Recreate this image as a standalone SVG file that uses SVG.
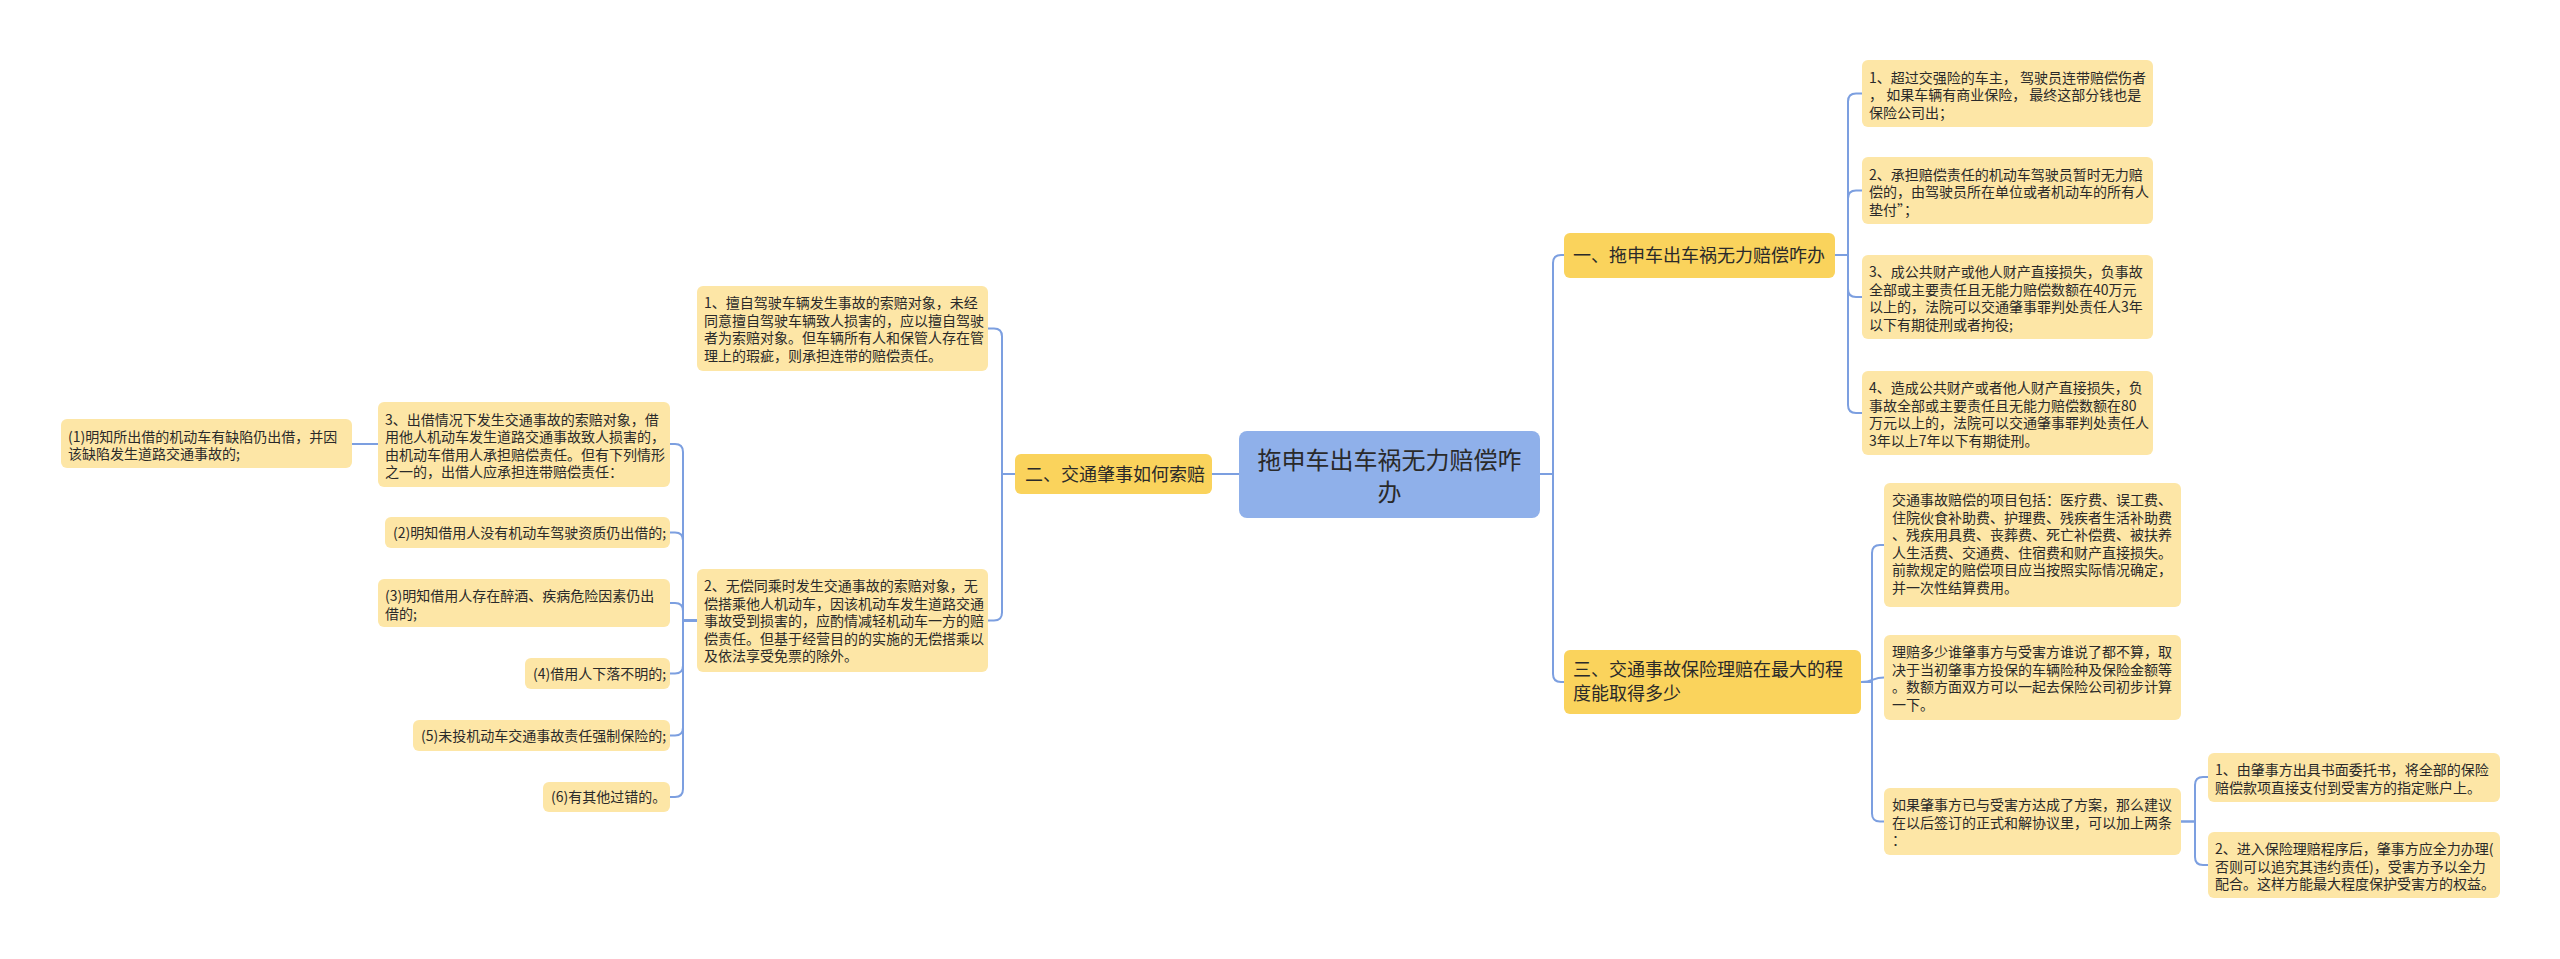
<svg xmlns="http://www.w3.org/2000/svg" width="2560" height="959" viewBox="0 0 2560 959">
<style>
.bg{fill:#ffffff}
.root{fill:#8fb0ea}
.br{fill:#fad35c}
.lf{fill:#fde6a6}
.ln{fill:none;stroke:#7c9fe0;stroke-width:2}
text{font-family:"Noto Sans CJK SC","Microsoft YaHei",sans-serif;fill:#2a2a2a}
.t24{font-size:24px}
.t18{font-size:18px}
.t14{font-size:14px}
</style>
<rect class="bg" x="0" y="0" width="2560" height="959"/>
<g id="connectors">
<path class="ln" d="M1540,474 H1553 V263 Q1553,255 1561,255 H1564"/>
<path class="ln" d="M1540,474 H1553 V674 Q1553,682 1561,682 H1564"/>
<path class="ln" d="M1239,474 H1212"/>
<path class="ln" d="M1835,255 H1848 V101.5 Q1848,93.5 1856,93.5 H1862"/>
<path class="ln" d="M1835,255 H1848 V198.5 Q1848,190.5 1856,190.5 H1862"/>
<path class="ln" d="M1835,255 H1848 V289 Q1848,297 1856,297 H1862"/>
<path class="ln" d="M1835,255 H1848 V405 Q1848,413 1856,413 H1862"/>
<path class="ln" d="M1861,682 H1872 V553 Q1872,545 1880,545 H1884"/>
<path class="ln" d="M1861,682 C1874,682 1872,677.5 1884,677.5"/>
<path class="ln" d="M1861,682 H1872 V813.5 Q1872,821.5 1880,821.5 H1884"/>
<path class="ln" d="M2181,821.5 H2195 V785 Q2195,777 2203,777 H2208"/>
<path class="ln" d="M2181,821.5 H2195 V857 Q2195,865 2203,865 H2208"/>
<path class="ln" d="M1015,474 H1002 V336.5 Q1002,328.5 994,328.5 H988"/>
<path class="ln" d="M1015,474 H1002 V612.5 Q1002,620.5 994,620.5 H988"/>
<path class="ln" d="M697,620.5 H683 V452 Q683,444 675,444 H670"/>
<path class="ln" d="M697,620.5 H683 V540.5 Q683,532.5 675,532.5 H670"/>
<path class="ln" d="M697,620.5 H683 V611 Q683,603 675,603 H670"/>
<path class="ln" d="M697,620.5 H683 V665.5 Q683,673.5 675,673.5 H670"/>
<path class="ln" d="M697,620.5 H683 V727.5 Q683,735.5 675,735.5 H670"/>
<path class="ln" d="M697,620.5 H683 V789 Q683,797 675,797 H670"/>
<path class="ln" d="M378,444 H352"/>
</g>
<g id="root">
<rect class="root" x="1239" y="431" width="301" height="87" rx="8"/>
<text class="t24" x="1389.5" y="469" text-anchor="middle">拖申车出车祸无力赔偿咋</text>
<text class="t24" x="1389.5" y="501" text-anchor="middle">办</text>
</g>
<g id="branch1">
<rect class="br" x="1564" y="233" width="271" height="45" rx="6"/>
<text class="t18" x="1573" y="261.5">一、拖申车出车祸无力赔偿咋办</text>
</g>
<g id="branch2">
<rect class="br" x="1015" y="454" width="197" height="40" rx="6"/>
<text class="t18" x="1025" y="480.5">二、交通肇事如何索赔</text>
</g>
<g id="branch3">
<rect class="br" x="1564" y="650" width="297" height="64" rx="6"/>
<text class="t18" x="1573" y="676">三、交通事故保险理赔在最大的程</text>
<text class="t18" x="1573" y="700">度能取得多少</text>
</g>
<g id="leaf1">
<rect class="lf" x="1862" y="60" width="291" height="67" rx="6"/>
<text class="t14" x="1869" y="82.5">1、超过交强险的车主， 驾驶员连带赔偿伤者</text>
<text class="t14" x="1869" y="100">， 如果车辆有商业保险， 最终这部分钱也是</text>
<text class="t14" x="1869" y="117.5">保险公司出；</text>
</g>
<g id="leaf2">
<rect class="lf" x="1862" y="157" width="291" height="67" rx="6"/>
<text class="t14" x="1869" y="179.5">2、承担赔偿责任的机动车驾驶员暂时无力赔</text>
<text class="t14" x="1869" y="197">偿的，由驾驶员所在单位或者机动车的所有人</text>
<text class="t14" x="1869" y="214.5">垫付”；</text>
</g>
<g id="leaf3">
<rect class="lf" x="1862" y="255" width="291" height="84" rx="6"/>
<text class="t14" x="1869" y="277">3、成公共财产或他人财产直接损失，负事故</text>
<text class="t14" x="1869" y="294.5">全部或主要责任且无能力赔偿数额在40万元</text>
<text class="t14" x="1869" y="312">以上的，法院可以交通肇事罪判处责任人3年</text>
<text class="t14" x="1869" y="329.5">以下有期徒刑或者拘役;</text>
</g>
<g id="leaf4">
<rect class="lf" x="1862" y="371" width="291" height="84" rx="6"/>
<text class="t14" x="1869" y="393">4、造成公共财产或者他人财产直接损失，负</text>
<text class="t14" x="1869" y="410.5">事故全部或主要责任且无能力赔偿数额在80</text>
<text class="t14" x="1869" y="428">万元以上的，法院可以交通肇事罪判处责任人</text>
<text class="t14" x="1869" y="445.5">3年以上7年以下有期徒刑。</text>
</g>
<g id="leafC1">
<rect class="lf" x="1884" y="483" width="297" height="124" rx="6"/>
<text class="t14" x="1892" y="505">交通事故赔偿的项目包括：医疗费、误工费、</text>
<text class="t14" x="1892" y="522.5">住院伙食补助费、护理费、残疾者生活补助费</text>
<text class="t14" x="1892" y="540">、残疾用具费、丧葬费、死亡补偿费、被扶养</text>
<text class="t14" x="1892" y="557.5">人生活费、交通费、住宿费和财产直接损失。</text>
<text class="t14" x="1892" y="575">前款规定的赔偿项目应当按照实际情况确定，</text>
<text class="t14" x="1892" y="592.5">并一次性结算费用。</text>
</g>
<g id="leafC2">
<rect class="lf" x="1884" y="635" width="297" height="85" rx="6"/>
<text class="t14" x="1892" y="657">理赔多少谁肇事方与受害方谁说了都不算，取</text>
<text class="t14" x="1892" y="674.5">决于当初肇事方投保的车辆险种及保险金额等</text>
<text class="t14" x="1892" y="692">。数额方面双方可以一起去保险公司初步计算</text>
<text class="t14" x="1892" y="709.5">一下。</text>
</g>
<g id="leafC3">
<rect class="lf" x="1884" y="788" width="297" height="67" rx="6"/>
<text class="t14" x="1892" y="810">如果肇事方已与受害方达成了方案，那么建议</text>
<text class="t14" x="1892" y="827.5">在以后签订的正式和解协议里，可以加上两条</text>
<text class="t14" x="1892" y="845">：</text>
</g>
<g id="leafD1">
<rect class="lf" x="2208" y="753" width="292" height="49" rx="6"/>
<text class="t14" x="2215" y="775">1、由肇事方出具书面委托书，将全部的保险</text>
<text class="t14" x="2215" y="792.5">赔偿款项直接支付到受害方的指定账户上。</text>
</g>
<g id="leafD2">
<rect class="lf" x="2208" y="832" width="292" height="66" rx="6"/>
<text class="t14" x="2215" y="854">2、进入保险理赔程序后，肇事方应全力办理(</text>
<text class="t14" x="2215" y="871.5">否则可以追究其违约责任)，受害方予以全力</text>
<text class="t14" x="2215" y="889">配合。这样方能最大程度保护受害方的权益。</text>
</g>
<g id="leafE1">
<rect class="lf" x="697" y="286" width="291" height="85" rx="6"/>
<text class="t14" x="704" y="308">1、擅自驾驶车辆发生事故的索赔对象，未经</text>
<text class="t14" x="704" y="325.5">同意擅自驾驶车辆致人损害的，应以擅自驾驶</text>
<text class="t14" x="704" y="343">者为索赔对象。但车辆所有人和保管人存在管</text>
<text class="t14" x="704" y="360.5">理上的瑕疵，则承担连带的赔偿责任。</text>
</g>
<g id="leafE2">
<rect class="lf" x="697" y="569" width="291" height="103" rx="6"/>
<text class="t14" x="704" y="591">2、无偿同乘时发生交通事故的索赔对象，无</text>
<text class="t14" x="704" y="608.5">偿搭乘他人机动车，因该机动车发生道路交通</text>
<text class="t14" x="704" y="626">事故受到损害的，应酌情减轻机动车一方的赔</text>
<text class="t14" x="704" y="643.5">偿责任。但基于经营目的的实施的无偿搭乘以</text>
<text class="t14" x="704" y="661">及依法享受免票的除外。</text>
</g>
<g id="leafF3">
<rect class="lf" x="378" y="402" width="292" height="85" rx="6"/>
<text class="t14" x="385" y="424.5">3、出借情况下发生交通事故的索赔对象，借</text>
<text class="t14" x="385" y="442">用他人机动车发生道路交通事故致人损害的，</text>
<text class="t14" x="385" y="459.5">由机动车借用人承担赔偿责任。但有下列情形</text>
<text class="t14" x="385" y="477">之一的，出借人应承担连带赔偿责任：</text>
</g>
<g id="leafF1">
<rect class="lf" x="61" y="419" width="291" height="49" rx="6"/>
<text class="t14" x="68" y="441.5">(1)明知所出借的机动车有缺陷仍出借，并因</text>
<text class="t14" x="68" y="459">该缺陷发生道路交通事故的;</text>
</g>
<g id="leafF2">
<rect class="lf" x="385" y="517" width="285" height="31" rx="6"/>
<text class="t14" x="393" y="537.5">(2)明知借用人没有机动车驾驶资质仍出借的;</text>
</g>
<g id="leafF3b">
<rect class="lf" x="378" y="579" width="292" height="48" rx="6"/>
<text class="t14" x="385" y="601">(3)明知借用人存在醉酒、疾病危险因素仍出</text>
<text class="t14" x="385" y="618.5">借的;</text>
</g>
<g id="leafF4">
<rect class="lf" x="525" y="658" width="145" height="31" rx="6"/>
<text class="t14" x="533" y="678.5">(4)借用人下落不明的;</text>
</g>
<g id="leafF5">
<rect class="lf" x="413" y="720" width="257" height="31" rx="6"/>
<text class="t14" x="421" y="740.5">(5)未投机动车交通事故责任强制保险的;</text>
</g>
<g id="leafF6">
<rect class="lf" x="543" y="782" width="127" height="30" rx="6"/>
<text class="t14" x="551" y="802">(6)有其他过错的。</text>
</g>
</svg>
